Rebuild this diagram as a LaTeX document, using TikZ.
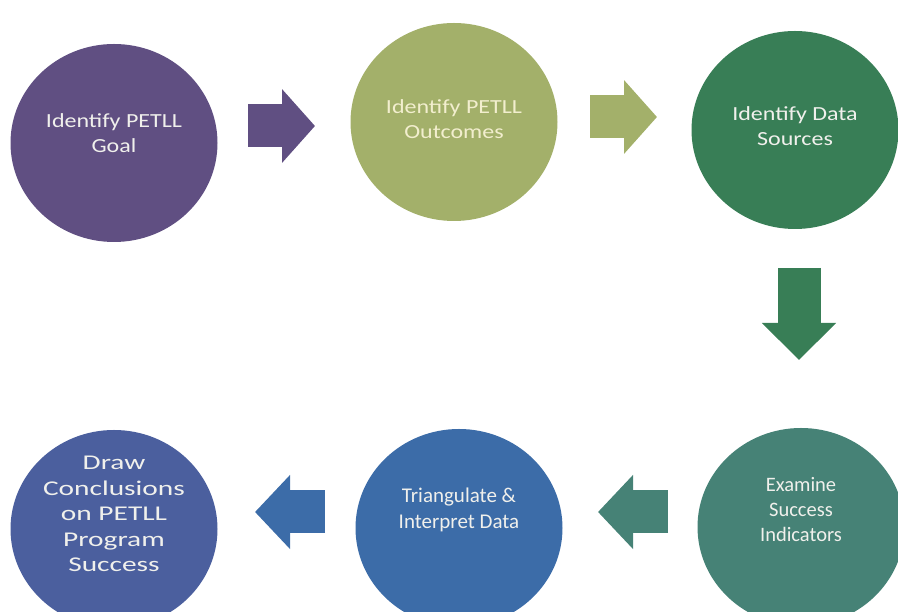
\documentclass[tikz,border=0pt]{standalone}
\usepackage{fontspec}
\setmainfont{Carlito}
\newfontfamily\topfont[FakeStretch=1.2]{Carlito}
\newfontfamily\widefont[FakeStretch=1.4]{Carlito}
\usetikzlibrary{arrows.meta,shapes.geometric}

\definecolor{goalpurple}{RGB}{96,79,130}
\definecolor{outcomegreen}{RGB}{163,176,106}
\definecolor{sourcegreen}{RGB}{56,126,86}
\definecolor{indicatorteal}{RGB}{70,130,118}
\definecolor{interpretblue}{RGB}{60,108,168}
\definecolor{conclusionblue}{RGB}{75,95,158}
\definecolor{labelwhite}{RGB}{240,240,236}
\definecolor{labelcream}{RGB}{242,238,206}

\tikzset{
  stage/.style={ellipse, minimum width=207pt, minimum height=198pt, inner sep=0pt},
  stagetext/.style={align=center, text=labelwhite, inner sep=0pt},
  toptext/.style={stagetext, font=\topfont\fontsize{20}{25.5}\selectfont},
  flowarrow/.style={line width=43pt, -{Triangle[length=#1,width=72pt]}},
  flowarrow/.default=33pt
}

\begin{document}
\begin{tikzpicture}[x=1pt, y=1pt]
  \useasboundingbox (0,0) rectangle (898,612);
  \clip (0,0) rectangle (898,612);

  % top row
  \node[stage, fill=goalpurple] (goal) at (114,469) {};
  \node[stage, fill=outcomegreen] (outcomes) at (454,490) {};
  \node[stage, fill=sourcegreen] (sources) at (795,482) {};

  \node[toptext] (goaltext) at (114,479) {Identify PETLL\\Goal};
  \node[toptext, text=labelcream] (outcomestext) at (454,493) {Identify PETLL\\Outcomes};
  \node[toptext] (sourcestext) at (795,486) {Identify Data\\Sources};

  % bottom row
  \node[stage, fill=indicatorteal] (indicators) at (801,85) {};
  \node[stage, fill=interpretblue] (interpret) at (459,84) {};
  \node[stage, fill=conclusionblue] (conclusions) at (114,83) {};

  \node[stagetext, font=\fontsize{20.5}{25}\selectfont] (indicatorstext) at (801,102) {Examine\\Success\\Indicators};
  \node[stagetext, font=\fontsize{21}{26}\selectfont] (interprettext) at (459,102) {Triangulate \&\\Interpret Data};
  \node[stagetext, font=\widefont\fontsize{21}{25.5}\selectfont] (conclusionstext) at (114,98) {Draw\\Conclusions\\on PETLL\\Program\\Success};

  % arrow ends
  \coordinate (a1s) at (248,486);
  \coordinate (a1e) at (315,486);
  \coordinate (a2s) at (590,495);
  \coordinate (a2e) at (657,495);
  \coordinate (a3s) at (799,344);
  \coordinate (a3e) at (799,252);
  \coordinate (a4s) at (668,100);
  \coordinate (a4e) at (598,100);
  \coordinate (a5s) at (325,100);
  \coordinate (a5e) at (255,100);

  \draw[flowarrow, goalpurple] (a1s) -- (a1e);
  \draw[flowarrow, outcomegreen] (a2s) -- (a2e);
  \draw[flowarrow=37pt, sourcegreen] (a3s) -- (a3e);
  \draw[flowarrow=35pt, indicatorteal] (a4s) -- (a4e);
  \draw[flowarrow=35pt, interpretblue] (a5s) -- (a5e);
\end{tikzpicture}
\end{document}
